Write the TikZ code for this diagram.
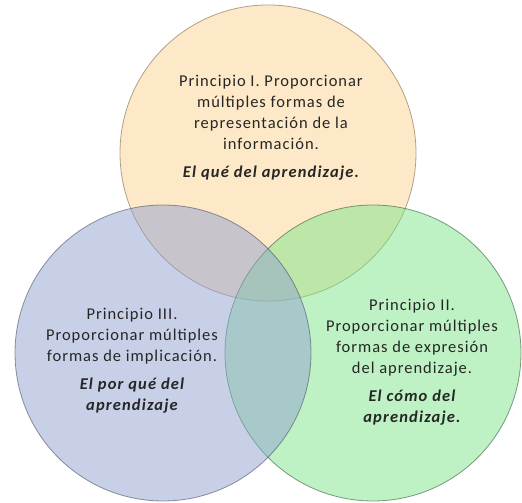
\documentclass[tikz,border=0pt]{standalone}
\usepackage{fontspec}
\setmainfont{Carlito}
\usepackage{tikz}
\usetikzlibrary{positioning}
\definecolor{principioorange}{RGB}{251, 211, 145}
\definecolor{principioblue}{RGB}{145, 161, 209}
\definecolor{principiogreen}{RGB}{125, 229, 137}
\definecolor{textogray}{RGB}{38, 38, 38}
\newcommand{\lema}[1]{{\fontsize{16.5}{21}\selectfont\bfseries\itshape\addfontfeature{LetterSpace=7}#1}}

\begin{document}
\begin{tikzpicture}[
    x=1pt, y=1pt,
    principio/.style={circle, minimum size=296pt, inner sep=0pt, fill opacity=0.5, draw opacity=0.6, line width=0.8pt},
    texto/.style={align=center, text=textogray, font=\fontsize{16.5}{21}\selectfont\addfontfeature{LetterSpace=6}}
]
\useasboundingbox (0, 0) rectangle (522, 503);

% Circles
\node[principio, fill=principioorange, draw=principioorange!50!black] (circ-uno) at (268, 350) {};
\node[principio, fill=principiogreen, draw=principiogreen!40!black] (circ-dos) at (373, 150) {};
\node[principio, fill=principioblue, draw=principioblue!50!black] (circ-tres) at (163, 150) {};

% Principio I
\node[texto] (texto-uno) at (271, 375) {Principio I. Proporcionar\\ múltiples formas de\\ representación de la\\ información.\\[7pt]
    \lema{El qué del aprendizaje.}};

% Principio II
\node[texto] (texto-dos) at (412, 141) {Principio II.\\ Proporcionar múltiples\\ formas de expresión\\ del aprendizaje.\\[7pt]
    \lema{El cómo del}\\ \lema{aprendizaje.}};

% Principio III
\node[texto] (texto-tres) at (132, 142) {Principio III.\\ Proporcionar múltiples\\ formas de implicación.\\[7pt]
    \lema{El por qué del}\\ \lema{aprendizaje}};

\end{tikzpicture}
\end{document}
